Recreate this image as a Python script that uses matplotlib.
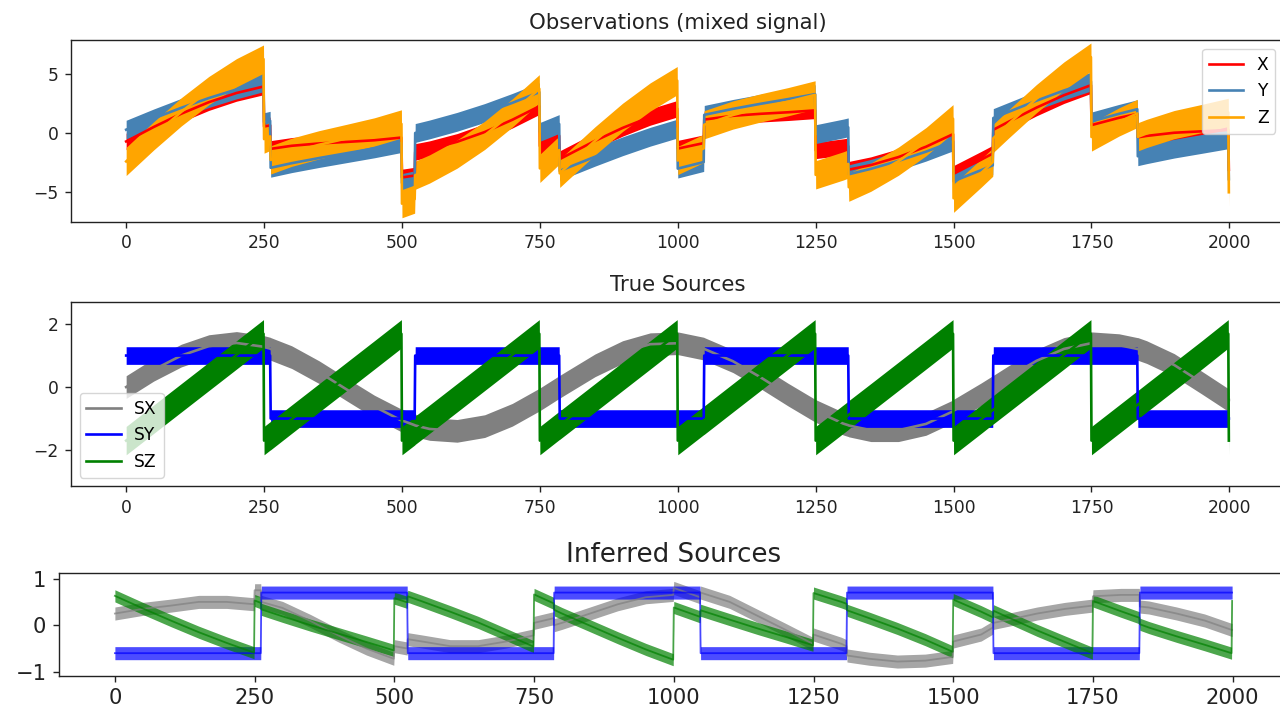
import matplotlib
matplotlib.use("Agg")
import matplotlib.pyplot as plt
import numpy as np

# ---- data ----
t = [0, 50, 100, 150, 200, 249, 250, 261, 262, 300,
     350, 400, 450, 499, 500, 523, 524, 550, 600, 650,
     700, 749, 750, 785, 786, 800, 850, 900, 950, 999,
     1000, 1047, 1048, 1100, 1150, 1200, 1249, 1250, 1300, 1309,
     1310, 1350, 1400, 1450, 1499, 1500, 1550, 1571, 1572, 1600,
     1650, 1700, 1749, 1750, 1800, 1833, 1834, 1850, 1900, 1950,
     1998, 1999]

obs_x = [-0.70, 0.53, 1.66, 2.64, 3.42, 3.97, 0.57, 0.67, -1.33, -1.07,
         -0.87, -0.74, -0.60, -0.37, -3.76, -3.60, -1.59, -1.35, -0.73, 0.10,
         1.14, 2.29, -1.09, -0.22, -2.20, -1.86, -0.65, 0.45, 1.38, 2.08,
         -1.31, -0.84, 1.16, 1.48, 1.65, 1.78, 1.94, -1.46, -1.18, -1.11,
         -3.10, -2.71, -2.03, -1.15, -0.08, -3.45, -2.25, -1.73, 0.29, 0.98,
         2.17, 3.23, 4.08, 0.69, 1.31, 1.64, -0.35, -0.23, 0.04, 0.16,
         0.28, -3.11]
obs_y = [0.30, 1.26, 2.16, 2.99, 3.72, 4.33, 0.94, 1.06, -2.94, -2.55,
         -2.11, -1.70, -1.29, -0.84, -4.23, -4.00, 0.02, 0.32, 0.97, 1.72,
         2.58, 3.49, 0.11, 0.78, -3.21, -2.94, -2.00, -1.11, -0.30, 0.39,
         -3.01, -2.45, 1.56, 2.07, 2.50, 2.90, 3.32, -0.08, 0.40, 0.50,
         -3.49, -3.03, -2.35, -1.57, -0.70, -4.08, -3.14, -2.73, 1.29, 1.82,
         2.76, 3.63, 4.39, 1.00, 1.65, 2.04, -1.96, -1.79, -1.31, -0.91,
         -0.52, -3.91]
obs_z = [-2.40, -0.22, 1.82, 3.63, 5.14, 6.30, -0.50, -0.27, -2.27, -1.62,
         -0.98, -0.44, 0.11, 0.79, -5.99, -5.60, -3.57, -3.04, -1.77, -0.18,
         1.72, 3.78, -2.99, -1.44, -3.41, -2.80, -0.65, 1.35, 3.08, 4.47,
         -2.32, -1.29, 0.72, 1.55, 2.15, 2.68, 3.26, -3.54, -2.78, -2.62,
         -4.59, -3.74, -2.38, -0.72, 1.23, -5.53, -3.39, -2.46, -0.43, 0.80,
         2.93, 4.86, 6.47, -0.32, 0.96, 1.68, -0.31, -0.02, 0.73, 1.25,
         1.77, -5.02]

src_x = [0.00, 0.55, 1.00, 1.30, 1.40, 1.28, 1.27, 1.22, 1.21, 0.95,
         0.47, -0.08, -0.62, -1.06, -1.06, -1.21, -1.22, -1.33, -1.39, -1.24,
         -0.88, -0.40, -0.39, 0.00, 0.01, 0.16, 0.69, 1.11, 1.36, 1.39,
         1.39, 1.22, 1.21, 0.82, 0.31, -0.24, -0.75, -0.76, -1.16, -1.21,
         -1.22, -1.37, -1.37, -1.17, -0.77, -0.75, -0.23, 0.00, 0.01, 0.32,
         0.83, 1.21, 1.39, 1.39, 1.33, 1.21, 1.21, 1.11, 0.70, 0.14,
         -0.41, -0.41]
src_y = [1, 1, 1, 1, 1, 1, 1, 1, -1, -1,
         -1, -1, -1, -1, -1, -1, 1, 1, 1, 1,
         1, 1, 1, 1, -1, -1, -1, -1, -1, -1,
         -1, -1, 1, 1, 1, 1, 1, 1, 1, 1,
         -1, -1, -1, -1, -1, -1, -1, -1, 1, 1,
         1, 1, 1, 1, 1, 1, -1, -1, -1, -1,
         -1, -1]
src_z = [-1.70, -1.02, -0.34, 0.34, 1.02, 1.69, -1.70, -1.55, -1.54, -1.02,
         -0.34, 0.34, 1.02, 1.69, -1.70, -1.39, -1.37, -1.02, -0.34, 0.34,
         1.02, 1.69, -1.70, -1.22, -1.21, -1.02, -0.34, 0.34, 1.02, 1.69,
         -1.70, -1.06, -1.05, -0.34, 0.34, 1.02, 1.69, -1.70, -1.02, -0.90,
         -0.88, -0.34, 0.34, 1.02, 1.69, -1.70, -1.02, -0.73, -0.72, -0.34,
         0.34, 1.02, 1.69, -1.70, -1.02, -0.57, -0.56, -0.34, 0.34, 1.02,
         1.69, -1.70]

inf_x = [0.25, 0.35, 0.42, 0.50, 0.50, 0.45, 0.75, 0.75, 0.50, 0.37,
         0.09, -0.22, -0.50, -0.72, -0.45, -0.50, -0.30, -0.35, -0.45, -0.45,
         -0.35, -0.22, 0.05, 0.15, 0.00, 0.05, 0.25, 0.45, 0.60, 0.65,
         0.80, 0.60, 0.70, 0.50, 0.20, -0.10, -0.40, -0.20, -0.40, -0.45,
         -0.65, -0.72, -0.78, -0.76, -0.68, -0.35, -0.20, -0.05, 0.05, 0.12,
         0.25, 0.35, 0.42, 0.62, 0.65, 0.65, 0.40, 0.38, 0.25, 0.10,
         -0.10, -0.10]
inf_y = [-0.60, -0.60, -0.60, -0.60, -0.60, -0.60, -0.60, -0.60, 0.70, 0.70,
         0.70, 0.70, 0.70, 0.70, 0.70, 0.70, -0.60, -0.60, -0.60, -0.60,
         -0.60, -0.60, -0.60, -0.60, 0.70, 0.70, 0.70, 0.70, 0.70, 0.70,
         0.70, 0.70, -0.60, -0.60, -0.60, -0.60, -0.60, -0.60, -0.60, -0.60,
         0.70, 0.70, 0.70, 0.70, 0.70, 0.70, 0.70, 0.70, -0.60, -0.60,
         -0.60, -0.60, -0.60, -0.60, -0.60, -0.60, 0.70, 0.70, 0.70, 0.70,
         0.70, 0.70]
inf_z = [0.63, 0.36, 0.10, -0.15, -0.38, -0.59, 0.53, 0.48, 0.34, 0.19,
         0.00, -0.18, -0.36, -0.54, 0.58, 0.49, 0.62, 0.51, 0.29, 0.06,
         -0.20, -0.46, 0.66, 0.47, 0.33, 0.25, -0.01, -0.27, -0.52, -0.74,
         0.38, 0.18, 0.32, 0.12, -0.07, -0.25, -0.43, 0.69, 0.50, 0.46,
         0.32, 0.15, -0.07, -0.31, -0.57, 0.55, 0.29, 0.17, 0.31, 0.16,
         -0.11, -0.36, -0.60, 0.52, 0.30, 0.16, 0.02, -0.05, -0.24, -0.42,
         -0.60, 0.52]

# visual spread of the noisy traces (half-height of the band)
spread_obs = [0.70, 0.80, 1.20]
spread_src = [0.36, 0.28, 0.45]
spread_inf = [0.14, 0.14, 0.13]

obs_labels = ["X", "Y", "Z"]
src_labels = ["SX", "SY", "SZ"]
obs_colors = ["red", "steelblue", "orange"]
src_colors = ["gray", "blue", "green"]

titles = ["Observations (mixed signal)", "True Sources", "Inferred Sources"]

# ---- figure ----
W, H = 1280, 712
fig = plt.figure(figsize=(W / 100, H / 100), dpi=100)
plt.rcParams["font.family"] = ["DejaVu Sans"]

def px_axes(l, r, top, bot):
    return fig.add_axes([l / W, 1 - bot / H, (r - l) / W, (bot - top) / H])

ax1 = px_axes(71, 1284, 40.3, 222)
ax2 = px_axes(71, 1284, 302.3, 486.3)
ax3 = px_axes(59, 1288, 573, 676)

tt = np.array(t, dtype=float)

def draw(ax, series, spreads, colors, labels, alpha, lw):
    for ys, sp, c, lab in zip(series, spreads, colors, labels):
        y = np.array(ys, dtype=float)
        ax.fill_between(tt, y - sp, y + sp, color=c, alpha=alpha, lw=0)
        ax.plot(tt, y, color=c, lw=lw, alpha=alpha, label=lab)

draw(ax1, [obs_x, obs_y, obs_z], spread_obs, obs_colors, obs_labels, 1.0, 1.9)
draw(ax2, [src_x, src_y, src_z], spread_src, src_colors, src_labels, 1.0, 1.9)
draw(ax3, [inf_x, inf_y, inf_z], spread_inf, src_colors, [None] * 3, 0.7, 1.3)

small = 12.3
big = 15.1
for ax, ttl, fs, tfs, yl, yt in [
        (ax1, titles[0], small, 15.3, (-7.55, 7.9), [-5, 0, 5]),
        (ax2, titles[1], small, 15.3, (-3.15, 2.69), [-2, 0, 2]),
        (ax3, titles[2], big, 18.8, (-1.09, 1.12), [-1, 0, 1])]:
    ax.set_xlim(-100, 2099)
    ax.set_ylim(*yl)
    ax.set_xticks([0, 250, 500, 750, 1000, 1250, 1500, 1750, 2000])
    ax.set_yticks(yt)
    ax.tick_params(labelsize=fs, length=4.5, width=1.0, pad=4.5,
                   colors="#222222")
    for s in ax.spines.values():
        s.set_linewidth(1.0)
        s.set_color("#222222")
    ax.set_title(ttl, fontsize=tfs, pad=8, color="#222222")

ax1.legend(loc="upper right", fontsize=small, handlelength=2.0)
ax2.legend(loc="lower left", fontsize=small, handlelength=2.0)

fig.savefig("out.png", dpi=100)
